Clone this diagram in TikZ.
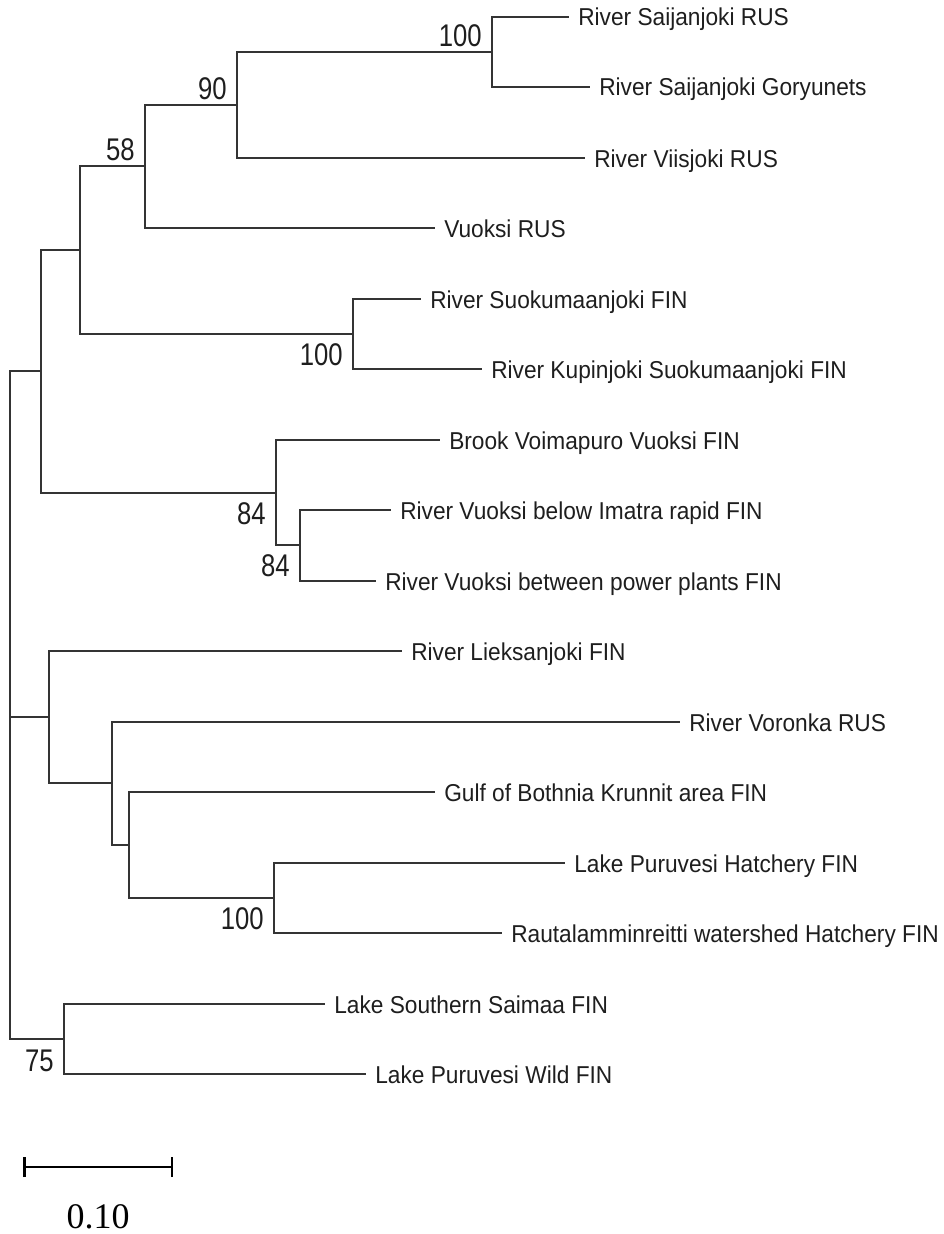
\documentclass[tikz,border=0pt]{standalone}
\usepackage{fontspec}
\newfontfamily\leaffont[FakeStretch=0.93]{Liberation Sans}
\newfontfamily\bootfont[FakeStretch=0.82]{Liberation Sans}
\newfontfamily\barfont{Liberation Serif}
\definecolor{branchcol}{RGB}{52,52,52}
\definecolor{textcol}{RGB}{30,30,30}
\tikzset{
  br/.style={draw=branchcol, line width=1.5pt, line cap=rect},
  leaf/.style={anchor=base west, inner sep=0pt, text=textcol, font=\leaffont\fontsize{18.3pt}{20pt}\selectfont},
  boot/.style={anchor=base east, inner sep=0pt, text=textcol, font=\bootfont\fontsize{23.5pt}{25pt}\selectfont},
  sbar/.style={draw=black, line width=2.2pt},
  stick/.style={draw=black, line width=1.9pt},
  sblabel/.style={anchor=base, inner sep=0pt, text=black, font=\barfont\fontsize{27pt}{29pt}\selectfont}
}
\begin{document}
\begin{tikzpicture}[x=0.75pt,y=-0.75pt]
\useasboundingbox (0,0) rectangle (944,1234);
% leaf ends
\coordinate (L0) at (568,17);
\coordinate (L1) at (589,87);
\coordinate (L2) at (584,158);
\coordinate (L3) at (434,228);
\coordinate (L4) at (420,299);
\coordinate (L5) at (481,369);
\coordinate (L6) at (439,440);
\coordinate (L7) at (390,510);
\coordinate (L8) at (375,581);
\coordinate (L9) at (401,651);
\coordinate (L10) at (679,722);
\coordinate (L11) at (434,792);
\coordinate (L12) at (564,863);
\coordinate (L13) at (501,933);
\coordinate (L14) at (324,1004);
\coordinate (L15) at (365,1074);
% internal nodes
\coordinate (nSai) at (492,52);
\coordinate (n90) at (237,105);
\coordinate (n58) at (145,166);
\coordinate (nSuo) at (353,334);
\coordinate (nA) at (80,250);
\coordinate (nBo) at (276,493);
\coordinate (nBi) at (300,545);
\coordinate (nUp) at (41,371);
\coordinate (nPur) at (274,898);
\coordinate (nG) at (129,845);
\coordinate (nV) at (112,783);
\coordinate (nMid) at (49,717);
\coordinate (nLake) at (64,1039);
\coordinate (root) at (10,717);
% branches
\path[br] (nSai) |- (L0);
\path[br] (nSai) |- (L1);
\path[br] (n90) |- (nSai);
\path[br] (n90) |- (L2);
\path[br] (n58) |- (n90);
\path[br] (n58) |- (L3);
\path[br] (nSuo) |- (L4);
\path[br] (nSuo) |- (L5);
\path[br] (nA) |- (n58);
\path[br] (nA) |- (nSuo);
\path[br] (nBi) |- (L7);
\path[br] (nBi) |- (L8);
\path[br] (nBo) |- (L6);
\path[br] (nBo) |- (nBi);
\path[br] (nUp) |- (nA);
\path[br] (nUp) |- (nBo);
\path[br] (nPur) |- (L12);
\path[br] (nPur) |- (L13);
\path[br] (nG) |- (L11);
\path[br] (nG) |- (nPur);
\path[br] (nV) |- (L10);
\path[br] (nV) |- (nG);
\path[br] (nMid) |- (L9);
\path[br] (nMid) |- (nV);
\path[br] (nLake) |- (L14);
\path[br] (nLake) |- (L15);
\path[br] (root) |- (nUp);
\path[br] (root) -- (nMid);
\path[br] (root) |- (nLake);
% leaf labels
\node[leaf] (t0) at ([shift={(10,9)}]L0) {River Saijanjoki RUS};
\node[leaf] (t1) at ([shift={(10,9)}]L1) {River Saijanjoki Goryunets};
\node[leaf] (t2) at ([shift={(10,9)}]L2) {River Viisjoki RUS};
\node[leaf] (t3) at ([shift={(10,9)}]L3) {Vuoksi RUS};
\node[leaf] (t4) at ([shift={(10,9)}]L4) {River Suokumaanjoki FIN};
\node[leaf] (t5) at ([shift={(10,9)}]L5) {River Kupinjoki Suokumaanjoki FIN};
\node[leaf] (t6) at ([shift={(10,9)}]L6) {Brook Voimapuro Vuoksi FIN};
\node[leaf] (t7) at ([shift={(10,9)}]L7) {River Vuoksi below Imatra rapid FIN};
\node[leaf] (t8) at ([shift={(10,9)}]L8) {River Vuoksi between power plants FIN};
\node[leaf] (t9) at ([shift={(10,9)}]L9) {River Lieksanjoki FIN};
\node[leaf] (t10) at ([shift={(10,9)}]L10) {River Voronka RUS};
\node[leaf] (t11) at ([shift={(10,9)}]L11) {Gulf of Bothnia Krunnit area FIN};
\node[leaf] (t12) at ([shift={(10,9)}]L12) {Lake Puruvesi Hatchery FIN};
\node[leaf] (t13) at ([shift={(10,9)}]L13) {Rautalamminreitti watershed Hatchery FIN};
\node[leaf] (t14) at ([shift={(10,9)}]L14) {Lake Southern Saimaa FIN};
\node[leaf] (t15) at ([shift={(10,9)}]L15) {Lake Puruvesi Wild FIN};
% bootstrap values
\node[boot] (bSai) at ([shift={(-10,-5)}]nSai) {100};
\node[boot] (b90) at ([shift={(-10,-5)}]n90) {90};
\node[boot] (b58) at ([shift={(-10,-5)}]n58) {58};
\node[boot] (bSuo) at ([shift={(-10,31.5)}]nSuo) {100};
\node[boot] (bBo) at ([shift={(-10,31.5)}]nBo) {84};
\node[boot] (bBi) at ([shift={(-10,31.5)}]nBi) {84};
\node[boot] (bPur) at ([shift={(-10,31.5)}]nPur) {100};
\node[boot] (bLake) at ([shift={(-10,32.5)}]nLake) {75};
% scale bar
\coordinate (sbL) at (24.5,1167);
\coordinate (sbR) at (172,1167);
\path[sbar] (sbL) -- (sbR);
\path[stick] ([yshift=-7.5]sbL) -- ([yshift=7.5]sbL);
\path[stick] ([yshift=-7.5]sbR) -- ([yshift=7.5]sbR);
\node[sblabel] (sbt) at (98.2,1228) {0.10};
\end{tikzpicture}
\end{document}
